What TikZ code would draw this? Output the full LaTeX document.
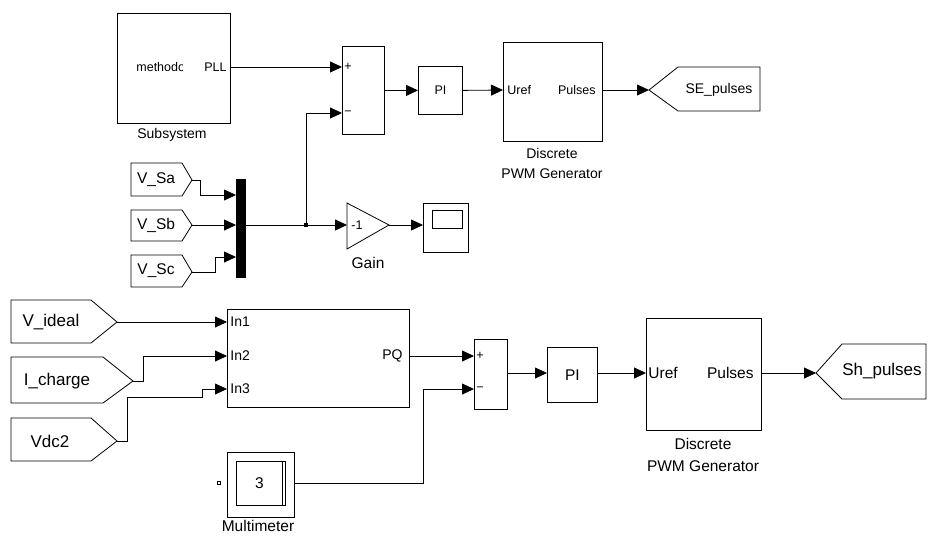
\documentclass[tikz,border=0pt]{standalone}
\usepackage{fontspec}
\setmainfont{Liberation Sans}
\usetikzlibrary{arrows.meta, calc, positioning}

\begin{document}
\begin{tikzpicture}[x=1pt, y=-1pt, line width=0.8pt,
    blk/.style={draw, anchor=north west, inner sep=0pt},
    sig/.style={-{Triangle[length=12pt, width=11pt]}},
    tag/.style={draw, line join=miter},
    fsmall/.style={font=\fontsize{12.5}{20}\selectfont, inner sep=0pt},
    fmid/.style={font=\fontsize{14}{20}\selectfont, inner sep=0pt},
    flarge/.style={font=\fontsize{15.5}{22}\selectfont, inner sep=0pt},
    fhuge/.style={font=\fontsize{17}{22}\selectfont, inner sep=0pt}]
  \useasboundingbox (0,0) rectangle (928,536);

  % upper loop
  \node[blk, minimum width=113, minimum height=110] (sub1) at (117,13) {};
  \begin{scope}
    \clip (130,55) rectangle (182,80);
    \node[fsmall, anchor=west] (meth) at (136,67) {methodo};
  \end{scope}
  \node[fsmall, anchor=east] (pll) at (227,67) {PLL};
  \node[fmid] (sub1-name) at (172,135) {Subsystem};

  \node[blk, minimum width=42, minimum height=88] (sum1) at (342,46) {};
  \node[fsmall, anchor=west] (plus1) at (344,67) {+};
  \node[fsmall, anchor=west] (minus1) at (344,113) {−};
  \node[blk, fsmall, minimum width=44, minimum height=48] (pi1) at (418,66) {PI};

  \node[blk, minimum width=99, minimum height=99] (pwm1) at (503,42) {};
  \node[fsmall, anchor=west] (uref1) at (507,90) {Uref};
  \node[fsmall, anchor=east] (pls1) at (596,90) {Pulses};
  \node[fmid, align=center] (pwm1-name) at (552,163) {Discrete\\PWM Generator};

  \draw[tag] (649,90) coordinate (se) -- (678,67) -- (760,67) -- (760,111) -- (678,111) -- cycle;
  \node[fmid] (se-name) at (719,90) {SE\_pulses};

  \draw[sig] (sub1.east |- pll) -- (sum1.west |- plus1);
  \draw[sig] (sum1.east) -- (pi1.west);
  \draw[sig] (pi1.east) -- (pwm1.west |- uref1);
  \draw[sig] (pwm1.east |- pls1) -- (se);

  % source voltages, mux, gain and scope
  \draw[tag] (131,163) -- (182,163) -- (192,180) coordinate (vsa) -- (182,196) -- (131,196) -- cycle;
  \draw[tag] (131,210) -- (182,210) -- (192,225) coordinate (vsb) -- (182,241) -- (131,241) -- cycle;
  \draw[tag] (131,255) -- (182,255) -- (192,272) coordinate (vsc) -- (182,287) -- (131,287) -- cycle;
  \node[flarge] (vsa-name) at (156,180) {V\_Sa};
  \node[flarge] (vsb-name) at (156,225) {V\_Sb};
  \node[flarge] (vsc-name) at (156,271) {V\_Sc};

  \node[blk, fill=black, minimum width=9, minimum height=98] (mux) at (236,179) {};
  \draw[sig] (vsa) -- ++(8,0) |- ($(mux.north west)+(0,16)$);
  \draw[sig] (vsb) -- (mux.west |- vsb);
  \draw[sig] (vsc) -- ++(23,0) |- ($(mux.north west)+(0,78)$);

  \draw (347,203) -- (389,225) coordinate (gain-out) -- (347,249) -- cycle;
  \coordinate (gain-in) at (347,225);
  \node[fsmall, anchor=west] (gain-k) at (351,225) {-1};
  \node[flarge] (gain-name) at (368,263) {Gain};

  \node[blk, minimum width=45, minimum height=49] (scope) at (423,203) {};
  \node[blk, minimum width=30, minimum height=18] (screen) at (432,210) {};

  \coordinate (br) at (306,225);
  \draw[sig] (mux.east |- vsb) -- (gain-in);
  \draw[sig] (br) |- (sum1.west |- minus1);
  \fill (br) +(-1.8,-1.8) rectangle +(1.8,1.8);
  \draw[sig] (gain-out) -- (scope.west |- gain-out);

  % lower loop
  \draw[tag] (11,300) -- (91,300) -- (117,322) coordinate (vid) -- (91,343) -- (11,343) -- cycle;
  \draw[tag] (11,357) -- (103,357) -- (133,381) coordinate (ich) -- (103,403) -- (11,403) -- cycle;
  \draw[tag] (11,418) -- (91,418) -- (117,441) coordinate (vdc) -- (91,461) -- (11,461) -- cycle;
  \node[fhuge] (vid-name) at (51,322) {V\_ideal};
  \node[fhuge] (ich-name) at (57,381) {I\_charge};
  \node[fhuge] (vdc-name) at (50,441) {Vdc2};

  \node[blk, minimum width=182, minimum height=98] (sub2) at (227,309) {};
  \node[fmid, anchor=west] (in1) at (230,322) {In1};
  \node[fmid, anchor=west] (in2) at (230,356) {In2};
  \node[fmid, anchor=west] (in3) at (230,389) {In3};
  \node[fmid, anchor=east] (pq) at (403,356) {PQ};

  \draw[sig] (vid) -- (sub2.west |- in1);
  \draw[sig] (ich) -- ++(10,0) |- (sub2.west |- in2);
  \draw[sig] (vdc) -- ++(10,0) -- (127,397) -- (202,397) |- (sub2.west |- in3);

  \node[blk, minimum width=33, minimum height=70] (sum2) at (474,339) {};
  \node[fsmall, anchor=west] (plus2) at (476,356) {+};
  \node[fsmall, anchor=west] (minus2) at (476,389) {−};
  \node[blk, flarge, minimum width=50, minimum height=55] (pi2) at (547,347) {PI};

  \node[blk, minimum width=115, minimum height=112] (pwm2) at (646,318) {};
  \node[flarge, anchor=west] (uref2) at (648,373) {Uref};
  \node[flarge, anchor=east] (pls2) at (754,373) {Pulses};
  \node[flarge, align=center] (pwm2-name) at (703,455) {Discrete\\PWM Generator};

  \draw[tag] (816,373) coordinate (sh) -- (842,344) -- (926,344) -- (926,399) -- (842,399) -- cycle;
  \node[fhuge] (sh-name) at (882,371) {Sh\_pulses};

  \draw[sig] (sub2.east |- pq) -- (sum2.west |- plus2);
  \draw[sig] (sum2.east |- 0,373) -- (pi2.west |- 0,373);
  \draw[sig] (pi2.east |- 0,373) -- (pwm2.west |- uref2);
  \draw[sig] (pwm2.east |- pls2) -- (sh);

  % multimeter
  \node[blk, minimum width=67, minimum height=65] (mm) at (227,452) {};
  \node[blk, flarge, minimum width=46, minimum height=44] (mm-disp) at (236,461) {3};
  \draw (mm-disp.north east) -- ++(3,0) -- ++(0,44) -- ++(-3,0);
  \node[draw, line width=0.7pt, minimum size=3.5pt, inner sep=0pt] (mm-port) at (219,483) {};
  \node[flarge] (mm-name) at (258,526) {Multimeter};

  \coordinate (mm-bend) at (423,389);
  \draw[sig] (mm.east |- 0,483) -| (mm-bend) -- (sum2.west |- minus2);
\end{tikzpicture}
\end{document}
